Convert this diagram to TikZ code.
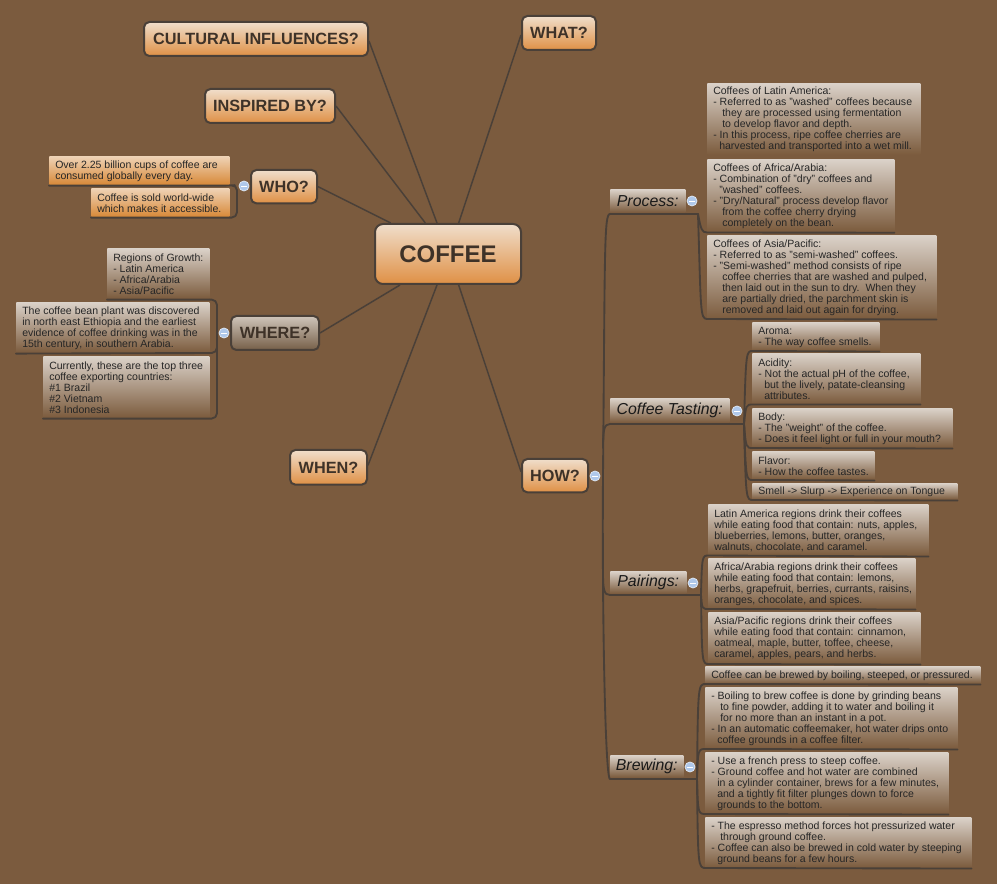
\documentclass[tikz,border=0pt]{standalone}
\usepackage{fontspec}
\setmainfont{Liberation Sans}
\definecolor{bgc}{HTML}{7B5B3E}
\definecolor{linec}{HTML}{4A4038}
\definecolor{inkc}{HTML}{3E3228}
\definecolor{orangea}{HTML}{F0DECB}
\definecolor{orangem}{HTML}{EBBF94}
\definecolor{orangeb}{HTML}{DF9045}
\definecolor{greya}{HTML}{CFC5BA}
\definecolor{greyb}{HTML}{765F48}
\definecolor{leafa}{HTML}{DBD2C9}
\definecolor{leafb}{HTML}{7C5C3E}
\definecolor{oleafa}{HTML}{EFD3B6}
\definecolor{oleafb}{HTML}{D88A3A}
\definecolor{togglec}{HTML}{AFC8EA}
\definecolor{toggled}{HTML}{DDE6F2}
\tikzset{
 mainbox/.style={draw=linec,line width=1.5pt,rounded corners=4pt,anchor=north west,inner sep=0pt,
   top color=orangea,middle color=orangem,bottom color=orangeb,text=inkc,font=\fontsize{12.2pt}{14pt}\selectfont\bfseries},
 greybox/.style={draw=linec,line width=1.5pt,rounded corners=4pt,anchor=north west,inner sep=0pt,
   top color=greya,bottom color=greyb,text=inkc,font=\fontsize{12.2pt}{14pt}\selectfont\bfseries},
 leaf/.style={anchor=north west,inner sep=0pt,text=black!85,top color=leafa,bottom color=leafb,
   font=\fontsize{7.9pt}{8.25pt}\selectfont},
 oleaf/.style={leaf,top color=oleafa,bottom color=oleafb},
 sub/.style={anchor=north west,inner sep=0pt,top color=leafa,bottom color=leafb,text=black!90,
   font=\fontsize{11.9pt}{14pt}\selectfont\itshape},
 wire/.style={draw=linec,line width=1.4pt,line cap=round,line join=round},
 spoke/.style={draw=linec,line width=1.1pt},
 toggle/.style={circle,minimum size=7.5pt,inner sep=0pt,draw=toggled,line width=.6pt,fill=togglec,
   path picture={\draw[white,line width=.7pt] ([xshift=-2pt]path picture bounding box.center)--([xshift=2pt]path picture bounding box.center);}},
}
\newcommand{\lf}[7][leaf]{\node[#1,minimum width=#4*.75pt,minimum height=#6*.75pt] (#2) at (#3,#5) {\hbox to \dimexpr#4pt*3/4\relax{\hspace*{4.5pt}\parbox{\dimexpr#4pt*3/4-4.5pt\relax}{\vspace*{1.5pt}\raggedright #7}\hss}};}
\newcommand{\ia}{\hspace*{6.75pt}}
\newcommand{\ib}{\hspace*{4.5pt}}
\begin{document}
\begin{tikzpicture}[x=.75pt,y=-.75pt]
\useasboundingbox[fill=bgc] (0,0) rectangle (997,884);
% central and first-level
\node[mainbox,minimum width=109.5pt,minimum height=45pt,font=\fontsize{18pt}{21pt}\selectfont\bfseries,rounded corners=6pt] (coffee) at (374,223) {COFFEE};
\node[mainbox,minimum width=168pt,minimum height=25.5pt] (cultural) at (143,21) {CULTURAL INFLUENCES?};
\node[mainbox,minimum width=97.5pt,minimum height=25.5pt] (inspired) at (204,88) {INSPIRED BY?};
\node[mainbox,minimum width=55.5pt,minimum height=25.5pt] (what) at (521,15) {WHAT?};
\node[mainbox,minimum width=49.5pt,minimum height=25pt] (who) at (250,169) {WHO?};
\node[greybox,minimum width=66pt,minimum height=25.5pt] (where) at (230,315) {WHERE?};
\node[mainbox,minimum width=57.75pt,minimum height=26pt] (when) at (289,449) {WHEN?};
\node[mainbox,minimum width=49.5pt,minimum height=25pt] (how) at (521,458) {HOW?};
% spokes
\draw[spoke] ([yshift=-1.5pt]cultural.east) -- ([xshift=-8.25pt]coffee.north);
\draw[spoke] (inspired.east) -- ([xshift=-17pt]coffee.north);
\draw[spoke] ([yshift=-1.5pt]what.west) -- ([xshift=8pt]coffee.north);
\draw[spoke] (who.east) -- ([xshift=-43pt]coffee.north);
\draw[spoke] (where.east) -- ([xshift=-36pt]coffee.south);
\draw[spoke] ([yshift=1.5pt]when.east) -- ([xshift=-8.25pt]coffee.south);
\draw[spoke] ([yshift=3pt]how.west) -- ([xshift=8pt]coffee.south);
% WHO leaves
\lf[oleaf]{w1}{49}{180}{156}{28}{Over 2.25 billion cups of coffee are\\consumed globally every day.}
\lf[oleaf]{w2}{91}{138}{188}{28}{Coffee is sold world-wide\\which makes it accessible.}
\node[toggle] (whot) at (244,186) {};
\draw[wire,rounded corners=4pt] ([yshift=-.8pt]w1.south west) -- ([yshift=-.8pt]w1.south east) -- (237,185) |- ([yshift=-.8pt]w2.south west);
% WHERE leaves
\lf{r1}{107}{102}{248}{50}{Regions of Growth:\\- Latin America\\- Africa/Arabia\\- Asia/Pacific}
\lf{r2}{16}{193}{302}{50}{The coffee bean plant was discovered\\in north east Ethiopia and the earliest\\evidence of coffee drinking was in the\\15th century, in southern Arabia.}
\lf{r3}{43}{166}{356}{61}{Currently, these are the top three\\coffee exporting countries:\\\#1 Brazil\\\#2 Vietnam\\\#3 Indonesia}
\node[toggle] (wheret) at (224,333) {};
\draw[wire,rounded corners=4pt] ([yshift=-.8pt]r1.south west) -| (217,353) -- ([yshift=-.8pt]r2.south west);
\draw[wire,rounded corners=4pt] (217,340) |- ([yshift=-.8pt]r3.south west);
% HOW tree
\node[sub,minimum width=56.25pt,minimum height=17.25pt] (process) at (610,189) {Process:};
\node[sub,minimum width=89.25pt,minimum height=18pt] (tasting) at (610,398) {Coffee Tasting:};
\node[sub,minimum width=57pt,minimum height=16.5pt] (pairings) at (610,571) {Pairings:};
\node[sub,minimum width=54.75pt,minimum height=16.5pt] (brewing) at (610,755) {Brewing:};
\node[toggle] (howt) at (595,476) {};
\node[toggle] (processt) at (692,201) {};
\node[toggle] (tastingt) at (737,411) {};
\node[toggle] (pairingst) at (693,583) {};
\node[toggle] (brewingt) at (690,767) {};
\coordinate (trunktop) at (610,214);
\coordinate (tastingb) at (610,424);
\coordinate (pairb) at (610,595);
\coordinate (trunkbot) at (610,779);
\draw[wire] (trunktop) .. controls (604,214) and (605,250) .. (603,476) .. controls (602,600) and (605,779) .. (trunkbot);
\draw[wire] (603,448) .. controls (603,430) and (604,424) .. (tastingb);
\draw[wire] (603,572) .. controls (603,590) and (604,595) .. (pairb);
\draw[wire] (trunktop) -- (698,214);
\draw[wire] (tastingb) -- (743,424);
\draw[wire] (pairb) -- (701,595);
\draw[wire] (trunkbot) -- (697,779);
% Process leaves
\lf{p1}{707}{213}{83}{71}{Coffees of Latin America:\\- Referred to as "washed" coffees because\\\ia they are processed using fermentation\\\ia to develop flavor and depth.\\- In this process, ripe coffee cherries are\\\ib harvested and transported into a wet mill.}
\lf{p2}{707}{187}{159}{72}{Coffees of Africa/Arabia:\\- Combination of "dry" coffees and\\\ib "washed" coffees.\\- "Dry/Natural" process develop flavor\\\ia from the coffee cherry drying\\\ia completely on the bean.}
\lf{p3}{707}{229}{235}{83}{Coffees of Asia/Pacific:\\- Referred to as "semi-washed" coffees.\\- "Semi-washed" method consists of ripe\\\ia coffee cherries that are washed and pulped,\\\ia then laid out in the sun to dry.\ \ When they\\\ia are partially dried, the parchment skin is\\\ia removed and laid out again for drying.}
\draw[wire] (698,214) .. controls (701,230) and (702,232.5) .. (707,232.5) -- ([yshift=-.9pt]p2.south east);
\draw[wire] (698,214) .. controls (701,310) and (700,319) .. (707,319) -- ([yshift=-.75pt]p3.south east);
% Tasting leaves
\lf{t1}{752}{127}{322}{28}{Aroma:\\- The way coffee smells.}
\lf{t2}{752}{168}{353}{50}{Acidity:\\- Not the actual pH of the coffee,\\\ib but the lively, patate-cleansing\\\ib attributes.}
\lf{t3}{752}{200}{408}{39}{Body:\\- The "weight" of the coffee.\\- Does it feel light or full in your mouth?}
\lf{t4}{752}{122}{451}{28}{Flavor:\\- How the coffee tastes.}
\lf{t5}{752}{205}{483}{16}{Smell -> Slurp -> Experience on Tongue}
\foreach \n/\yy in {t1/351,t2/404.5,t3/448,t4/480,t5/500}{
 \draw[wire] (744,424) .. controls (746,\yy) and (746,\yy) .. (753,\yy) -- ([yshift=-.75pt]\n.south east);
}
% Pairings leaves
\lf{a1}{708}{220}{504}{51}{Latin America regions drink their coffees\\while eating food that contain: nuts, apples,\\blueberries, lemons, butter, oranges,\\walnuts, chocolate, and caramel.}
\lf{a2}{708}{207}{558}{50}{Africa/Arabia regions drink their coffees\\while eating food that contain: lemons,\\herbs, grapefruit, berries, currants, raisins,\\oranges, chocolate, and spices.}
\lf{a3}{708}{212}{612}{51}{Asia/Pacific regions drink their coffees\\while eating food that contain: cinnamon,\\oatmeal, maple, butter, toffee, cheese,\\caramel, apples, pears, and herbs.}
\foreach \n/\yy in {a1/555.5,a2/609,a3/664}{
 \draw[wire] (701,595) .. controls (702,\yy) and (702,\yy) .. (709,\yy) -- ([yshift=-.75pt]\n.south east);
}
% Brewing leaves
\lf{b1}{705}{275}{666}{17}{Coffee can be brewed by boiling, steeped, or pressured.}
\lf{b2}{705}{252}{687}{61}{- Boiling to brew coffee is done by grinding beans\\\ia to fine powder, adding it to water and boiling it\\\ia for no more than an instant in a pot.\\- In an automatic coffeemaker, hot water drips onto\\\ib coffee grounds in a coffee filter.}
\lf{b3}{705}{243}{752}{61}{- Use a french press to steep coffee.\\- Ground coffee and hot water are combined\\\ib in a cylinder container, brews for a few minutes,\\\ib and a tightly fit filter plunges down to force\\\ib grounds to the bottom.}
\lf{b4}{705}{266}{817}{50}{- The espresso method forces hot pressurized water\\\ia through ground coffee.\\- Coffee can also be brewed in cold water by steeping\\\ib ground beans for a few hours.}
\foreach \n/\yy in {b1/684,b2/749,b3/814,b4/868}{
 \draw[wire] (697,779) .. controls (698,\yy) and (698,\yy) .. (706,\yy) -- ([yshift=-.75pt]\n.south east);
}
\end{tikzpicture}
\end{document}
